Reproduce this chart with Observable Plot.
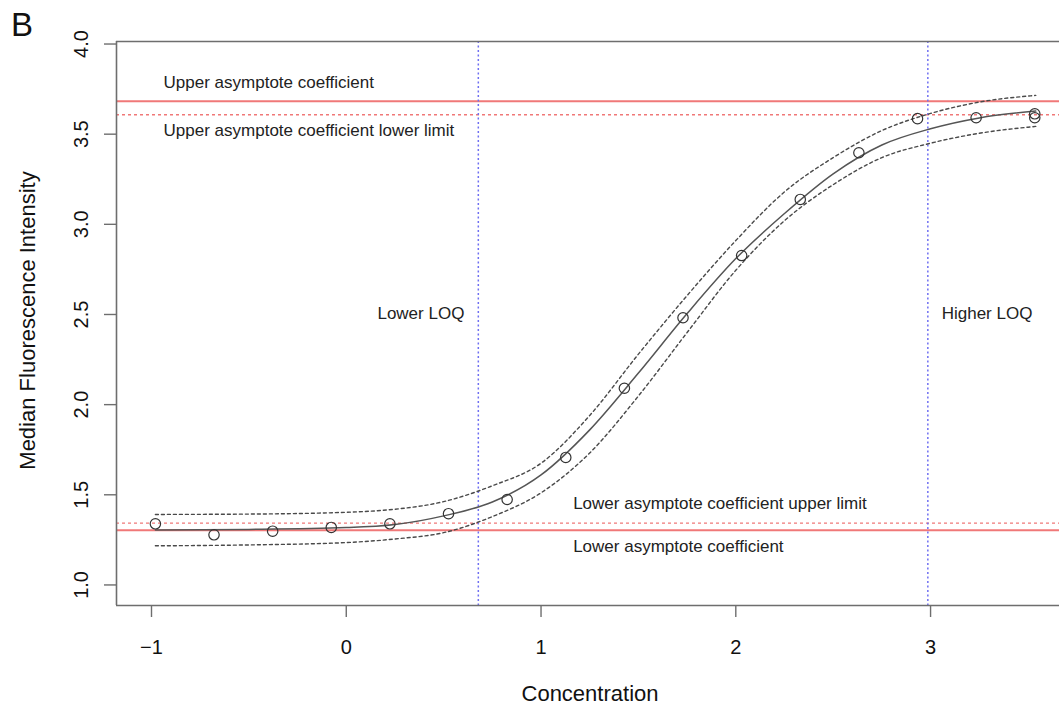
<!DOCTYPE html>
<html>
<head>
<meta charset="utf-8">
<script src="https://cdn.jsdelivr.net/npm/d3@7"></script>
<script src="https://cdn.jsdelivr.net/npm/@observablehq/plot@0.6"></script>
<style>
  html, body { margin: 0; padding: 0; background: #fff; }
  #wrap { position: relative; width: 1059px; height: 706px; overflow: hidden; font-family: "Liberation Sans", Arial, sans-serif; }
  #panel { position: absolute; left: 11px; top: 7.6px; font-size: 33px; line-height: 33px; color: #111; }
  #chart { position: absolute; left: 0; top: 0; }
</style>
</head>
<body>
<div id="wrap">
  <div id="chart"></div>
  <div id="panel">B</div>
</div>
<script>
// Observed points (log10 concentration, MFI)
const conc = [-0.98, -0.679, -0.378, -0.077, 0.224, 0.525, 0.826, 1.127, 1.428, 1.729, 2.03, 2.331, 2.632, 2.933, 3.234, 3.535, 3.535];
const mfi  = [1.339, 1.278, 1.298, 1.319, 1.339, 1.395, 1.474, 1.707, 2.091, 2.482, 2.827, 3.138, 3.397, 3.586, 3.591, 3.613, 3.591];

// Fitted curve and confidence band
const fitX   = [-0.98, -0.5, 0, 0.25, 0.5, 0.75, 1.0, 1.25, 1.5, 1.75, 2.0, 2.25, 2.5, 2.75, 3.0, 3.25, 3.54];
const fitY   = [1.305, 1.308, 1.318, 1.335, 1.383, 1.46, 1.61, 1.86, 2.175, 2.505, 2.81, 3.06, 3.28, 3.44, 3.53, 3.59, 3.628];
const upperY = [1.391, 1.393, 1.403, 1.42, 1.462, 1.55, 1.675, 1.94, 2.28, 2.605, 2.91, 3.18, 3.37, 3.52, 3.615, 3.678, 3.715];
const lowerY = [1.217, 1.222, 1.235, 1.255, 1.29, 1.379, 1.511, 1.732, 2.048, 2.40, 2.745, 3.02, 3.22, 3.37, 3.45, 3.505, 3.543];

// Reference values
const asymSolid  = [3.682, 1.304];   // upper / lower asymptote coefficient
const asymDashed = [3.608, 1.343];   // upper lower-limit / lower upper-limit
const loq = [0.678, 2.986];          // lower / higher LOQ

// Ticks
const xTicks = [-1, 0, 1, 2, 3];
const yTicks = [1.0, 1.5, 2.0, 2.5, 3.0, 3.5, 4.0];

// Annotations
const labelText = ["Upper asymptote coefficient", "Upper asymptote coefficient lower limit", "Lower LOQ", "Higher LOQ", "Lower asymptote coefficient upper limit", "Lower asymptote coefficient"];
const labelX = [-0.938, -0.938, 0.16, 3.057, 1.165, 1.165];
const labelY = [3.787, 3.52, 2.506, 2.506, 1.452, 1.213];

const points = conc.map((c, i) => ({x: c, y: mfi[i]}));
const fit = fitX.map((x, i) => ({x, fit: fitY[i], up: upperY[i], lo: lowerY[i]}));
const labels = labelText.map((t, i) => ({t, x: labelX[i], y: labelY[i]}));

const xDom = [-1.1797, 3.662];
const yDom = [0.886, 4.014];
const frameColor = "#6e6e6e";
const red = "#f07878";
const blue = "#6f6ff2";
const ink = "#4a4a4a";

const fmtX = d => (d < 0 ? "\u2212" + Math.abs(d) : String(d));

const chart = Plot.plot({
  width: 1059,
  height: 706,
  marginLeft: 116,
  marginRight: 0,
  marginTop: 41,
  marginBottom: 101,
  style: {fontFamily: "Liberation Sans, Arial, sans-serif", background: "transparent", overflow: "visible"},
  x: {domain: xDom},
  y: {domain: yDom},
  marks: [
    // reference lines
    Plot.ruleY(asymSolid, {stroke: red, strokeWidth: 2}),
    Plot.ruleY(asymDashed, {stroke: red, strokeWidth: 1.4, strokeDasharray: "3,3"}),
    Plot.ruleX(loq, {stroke: blue, strokeWidth: 1.5, strokeDasharray: "2,2.5"}),
    // confidence band
    Plot.line(fit, {x: "x", y: "up", stroke: ink, strokeWidth: 1.4, strokeDasharray: "3,3", curve: "monotone-x"}),
    Plot.line(fit, {x: "x", y: "lo", stroke: ink, strokeWidth: 1.4, strokeDasharray: "3,3", curve: "monotone-x"}),
    // fitted curve
    Plot.line(fit, {x: "x", y: "fit", stroke: "#555", strokeWidth: 1.5, curve: "monotone-x"}),
    // observations
    Plot.dot(points, {x: "x", y: "y", r: 5.2, stroke: "#333", strokeWidth: 1.2, fill: "none"}),
    // annotations
    Plot.text(labels, {x: "x", y: "y", text: "t", textAnchor: "start", lineAnchor: "middle", fontSize: 17, fill: "#222"}),
    // box (left, top, bottom)
    Plot.ruleX([xDom[0]], {stroke: frameColor, strokeWidth: 1.6}),
    Plot.ruleY([yDom[0], yDom[1]], {stroke: frameColor, strokeWidth: 1.6}),
    // axes
    Plot.axisX({ticks: xTicks, tickSize: 12, tickPadding: 22, fontSize: 20, tickFormat: fmtX, stroke: frameColor, strokeWidth: 1.4, fill: "#111", label: null}),
    Plot.axisY({ticks: yTicks, tickSize: 12, tickPadding: 16.5, tickRotate: -90, fontSize: 20, tickFormat: d => d.toFixed(1), stroke: frameColor, strokeWidth: 1.4, fill: "#111", label: null}),
    // axis titles
    Plot.text(["Concentration"], {frameAnchor: "bottom", textAnchor: "middle", dx: 2, dy: 88, lineAnchor: "middle", fontSize: 22, fill: "#111"}),
    Plot.text(["Median Fluorescence Intensity"], {frameAnchor: "left", textAnchor: "middle", dx: -89, dy: -3, rotate: -90, lineAnchor: "middle", fontSize: 22, fill: "#111"})
  ]
});
document.getElementById("chart").appendChild(chart);
</script>
</body>
</html>
